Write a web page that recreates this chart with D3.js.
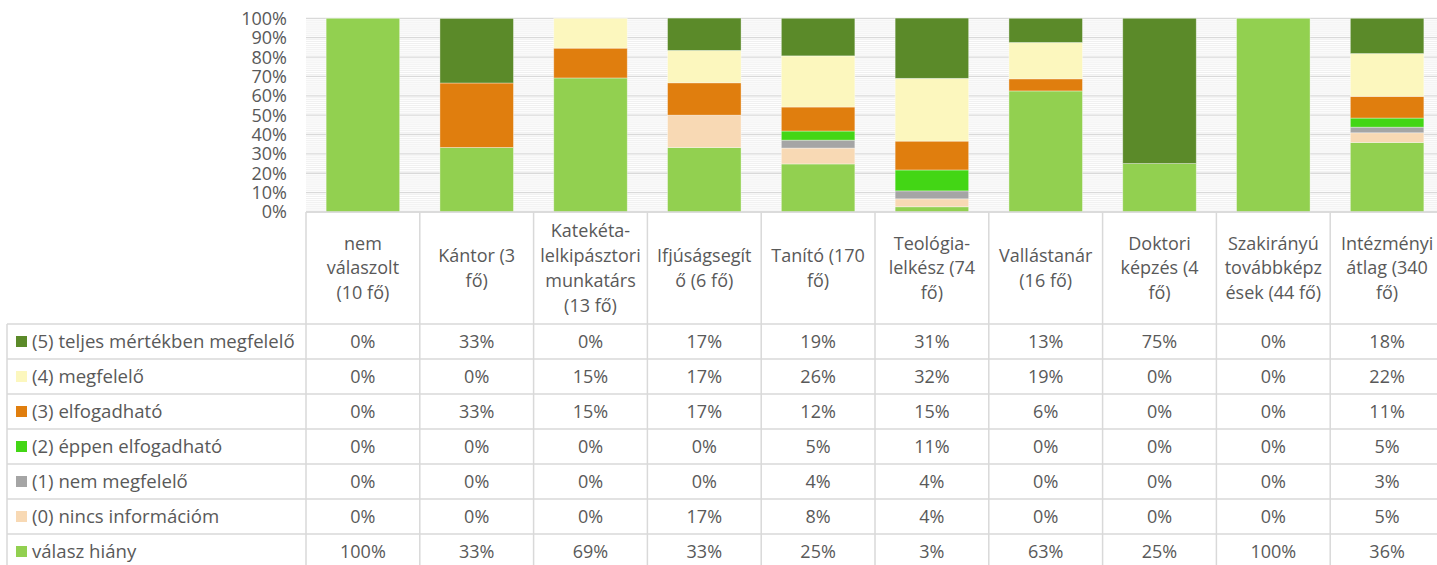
<!DOCTYPE html>
<html>
<head>
<meta charset="utf-8">
<script src="https://cdn.jsdelivr.net/npm/d3@7"></script>
<style>
  body { margin: 0; background: #fff; }
  svg { display: block; font-family: "Open Sans", sans-serif; }
  text { fill: #595959; }
</style>
</head>
<body>
<div id="chart"></div>
<script>
// ---------------------------------------------------------------------------
// DATA
// ---------------------------------------------------------------------------
const categories = [
  'nem\nválaszolt\n(10 fő)',
  'Kántor (3\nfő)',
  'Katekéta-\nlelkipásztori\nmunkatárs\n(13 fő)',
  'Ifjúságsegít\nő (6 fő)',
  'Tanító (170\nfő)',
  'Teológia-\nlelkész (74\nfő)',
  'Vallástanár\n(16 fő)',
  'Doktori\nképzés (4\nfő)',
  'Szakirányú\ntovábbképz\nések (44 fő)',
  'Intézményi\nátlag (340\nfő)',
];

// stacking order, bottom to top
const seriesNames = [
  'válasz hiány',
  '(0) nincs információm',
  '(1) nem megfelelő',
  '(2) éppen elfogadható',
  '(3) elfogadható',
  '(4) megfelelő',
  '(5) teljes mértékben megfelelő',
];

const valaszHiany = [100, 33.3, 69.2, 33.3, 24.8, 2.7, 62.5, 25, 100, 35.9];
const nincsInformaciom = [0, 0, 0, 16.7, 8.2, 4.1, 0, 0, 0, 5.0];
const nemMegfelelo = [0, 0, 0, 0, 4.1, 4.1, 0, 0, 0, 2.9];
const eppenElfogadhato = [0, 0, 0, 0, 4.7, 10.8, 0, 0, 0, 4.7];
const elfogadhato = [0, 33.3, 15.4, 16.7, 12.4, 14.9, 6.25, 0, 0, 11.2];
const megfelelo = [0, 0, 15.4, 16.7, 26.4, 32.4, 18.75, 0, 0, 22.1];
const teljesMertekben = [0, 33.3, 0, 16.7, 19.4, 31.1, 12.5, 75, 0, 18.2];

const seriesValues = [valaszHiany, nincsInformaciom, nemMegfelelo, eppenElfogadhato,
  elfogadhato, megfelelo, teljesMertekben];

const yTicks = [0, 10, 20, 30, 40, 50, 60, 70, 80, 90, 100];

const colors = ['#92d050', '#f8d9b4', '#a5a5a5', '#43d615', '#e07e0e', '#fcf7be', '#5b8a29'];

// ---------------------------------------------------------------------------
// LAYOUT
// ---------------------------------------------------------------------------
const W = 1437;
const H = 565;
const plotLeft = 306;
const colStep = 113.8;
const plotTop = 18.3;
const plotBottom = 212;
const headerBottom = 324;
const rowH = 35;
const legendLeft = 7;
const gridColor = '#d9d9d9';

const svg = d3.select('#chart').append('svg')
  .attr('width', W)
  .attr('height', H);

const x = d3.scaleBand()
  .domain(categories)
  .range([plotLeft, plotLeft + colStep * categories.length])
  .paddingInner(0.354)
  .paddingOuter(0.177);

const xCol = d3.scaleBand()
  .domain(categories)
  .range([plotLeft, plotLeft + colStep * categories.length]);

const y = d3.scaleLinear()
  .domain([0, 100])
  .range([plotBottom, plotTop]);

const color = d3.scaleOrdinal(seriesNames, colors);

// table rows built from the arrays
const table = categories.map((c, i) => {
  const row = { cat: c };
  seriesNames.forEach((s, k) => { row[s] = seriesValues[k][i]; });
  return row;
});

// ---------------------------------------------------------------------------
// GRIDLINES
// ---------------------------------------------------------------------------
const plotRight = W + 20;
svg.append('g').selectAll('line')
  .data(d3.range(0, 101, 1).filter(v => v % 10 !== 0))
  .enter().append('line')
    .attr('x1', plotLeft).attr('x2', plotRight)
    .attr('y1', d => y(d)).attr('y2', d => y(d))
    .attr('stroke', '#f0f0f0')
    .attr('stroke-width', 1);

svg.append('g').selectAll('line')
  .data(yTicks)
  .enter().append('line')
    .attr('x1', plotLeft).attr('x2', plotRight)
    .attr('y1', d => y(d)).attr('y2', d => y(d))
    .attr('stroke', gridColor)
    .attr('stroke-width', 1.3);

// y axis labels
svg.append('g').selectAll('text')
  .data(yTicks)
  .enter().append('text')
    .attr('x', 287)
    .attr('y', d => y(d))
    .attr('dy', '0.36em')
    .attr('text-anchor', 'end')
    .style('font-size', '18px')
    .text(d => `${d}%`);

// ---------------------------------------------------------------------------
// STACKED BARS
// ---------------------------------------------------------------------------
const stacked = d3.stack().keys(seriesNames)(table);

svg.append('g').selectAll('g')
  .data(stacked)
  .enter().append('g')
    .attr('fill', d => color(d.key))
  .selectAll('rect')
  .data(d => d)
  .enter().append('rect')
    .attr('x', d => x(d.data.cat))
    .attr('width', x.bandwidth())
    .attr('y', d => y(d[1]))
    .attr('height', d => y(d[0]) - y(d[1]))
    .attr('stroke', '#ffffff')
    .attr('stroke-opacity', 0.45)
    .attr('stroke-width', 0.8);

// ---------------------------------------------------------------------------
// DATA TABLE
// ---------------------------------------------------------------------------
const rowsTopDown = seriesNames.slice().reverse();
const tableBottom = headerBottom + rowH * rowsTopDown.length;
const grid = svg.append('g')
  .attr('stroke', gridColor)
  .attr('stroke-width', 1.5);

// vertical lines of value columns
grid.selectAll('.vcol')
  .data(d3.range(categories.length + 1))
  .enter().append('line')
    .attr('class', 'vcol')
    .attr('x1', i => plotLeft + i * colStep)
    .attr('x2', i => plotLeft + i * colStep)
    .attr('y1', plotBottom)
    .attr('y2', tableBottom);

// legend column left edge
grid.append('line')
  .attr('x1', legendLeft).attr('x2', legendLeft)
  .attr('y1', headerBottom).attr('y2', tableBottom);

// horizontal row lines
grid.selectAll('.hrow')
  .data(d3.range(rowsTopDown.length + 1))
  .enter().append('line')
    .attr('class', 'hrow')
    .attr('x1', legendLeft)
    .attr('x2', plotRight)
    .attr('y1', k => headerBottom + k * rowH)
    .attr('y2', k => headerBottom + k * rowH);

// axis line at the bottom of the plot
grid.append('line')
  .attr('x1', plotLeft).attr('x2', plotRight)
  .attr('y1', plotBottom).attr('y2', plotBottom);

// header labels
const lineH = 24.8;
const headerMid = (plotBottom + headerBottom) / 2;
svg.append('g').selectAll('text')
  .data(categories)
  .enter().append('text')
    .attr('text-anchor', 'middle')
    .style('font-size', '18px')
    .each(function (c) {
      const lines = c.split('\n');
      const cx = xCol(c) + xCol.bandwidth() / 2;
      const y0 = headerMid - ((lines.length - 1) * lineH) / 2;
      d3.select(this).selectAll('tspan')
        .data(lines)
        .enter().append('tspan')
          .attr('x', cx)
          .attr('y', (l, j) => y0 + j * lineH)
          .attr('dy', '0.36em')
          .text(l => l);
    });

// legend rows
const rows = svg.append('g').selectAll('g')
  .data(rowsTopDown)
  .enter().append('g')
    .attr('transform', (s, k) => `translate(0, ${headerBottom + k * rowH + rowH / 2})`);

rows.append('rect')
  .attr('x', 16)
  .attr('y', -5.5)
  .attr('width', 11)
  .attr('height', 11)
  .attr('fill', s => color(s));

rows.append('text')
  .attr('x', 32)
  .attr('dy', '0.36em')
  .style('font-size', '18.6px')
  .text(s => s);

// value cells
rows.selectAll('.cell')
  .data(s => table.map(r => ({ cat: r.cat, v: r[s] })))
  .enter().append('text')
    .attr('class', 'cell')
    .attr('x', d => xCol(d.cat) + xCol.bandwidth() / 2)
    .attr('dy', '0.36em')
    .attr('text-anchor', 'middle')
    .style('font-size', '18px')
    .text(d => `${Math.round(d.v)}%`);
</script>
</body>
</html>
